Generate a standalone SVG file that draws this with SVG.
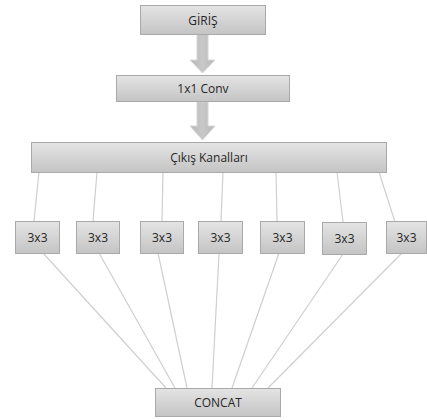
<svg xmlns="http://www.w3.org/2000/svg" width="427" height="420" viewBox="0 0 427 420">
<defs>
<linearGradient id="g" x1="0" y1="0" x2="0" y2="1">
<stop offset="0" stop-color="#e4e4e4"/>
<stop offset="1" stop-color="#c4c4c4"/>
</linearGradient>
<linearGradient id="ga" x1="0" y1="0" x2="1" y2="0">
<stop offset="0" stop-color="#b8b8b8"/>
<stop offset="0.5" stop-color="#c8c8c8"/>
<stop offset="1" stop-color="#b8b8b8"/>
</linearGradient>
</defs>
<style>
.b{fill:url(#g);stroke:#a9a9a9;stroke-width:1}
.t{font-family:"Open Sans","Liberation Sans",sans-serif;font-size:12px;fill:#262626;text-anchor:middle;dominant-baseline:central}
.c line{stroke:#cfcfcf;stroke-width:1.2}
.ar{fill:url(#ga);stroke:#d6d6d6;stroke-width:1}
</style>
<rect width="427" height="420" fill="#fff"/>
<g class="c" id="connectors">
<polygon class="ar" points="197,34 208,34 208,60 215,60 202.5,73 190,60 197,60"/>
<polygon class="ar" points="197,102 208,102 208,126 215,126 202.5,140 190,126 197,126"/>
<line x1="39" y1="172" x2="34" y2="221"/>
<line x1="97" y1="172" x2="93" y2="221"/>
<line x1="163" y1="172" x2="162" y2="221"/>
<line x1="223" y1="172" x2="221" y2="221"/>
<line x1="276" y1="172" x2="277" y2="221"/>
<line x1="337" y1="172" x2="343" y2="222"/>
<line x1="379" y1="172" x2="395" y2="222"/>
<line x1="43" y1="253" x2="166" y2="388"/>
<line x1="99" y1="253" x2="175" y2="388"/>
<line x1="158" y1="253" x2="187" y2="388"/>
<line x1="219" y1="253" x2="212" y2="388"/>
<line x1="279" y1="253" x2="232" y2="388"/>
<line x1="343" y1="254" x2="252" y2="388"/>
<line x1="402" y1="253" x2="268" y2="388"/>
</g>
<g id="giris"><rect class="b" x="140.5" y="5.5" width="125" height="29"/><text class="t" x="203" y="20">GİRİŞ</text></g>
<g id="conv"><rect class="b" x="116.5" y="75.5" width="173" height="26"/><text class="t" x="203" y="88.5">1x1 Conv</text></g>
<g id="cikis"><rect class="b" x="31.5" y="142.5" width="355" height="30"/><text class="t" x="209" y="157.5">Çıkış Kanalları</text></g>
<g id="k1"><rect class="b" x="15.5" y="221.5" width="44" height="32"/><text class="t" x="37.5" y="237.5">3x3</text></g>
<g id="k2"><rect class="b" x="76.5" y="221.5" width="43" height="32"/><text class="t" x="98" y="237.5">3x3</text></g>
<g id="k3"><rect class="b" x="140.5" y="221.5" width="43" height="32"/><text class="t" x="162" y="237.5">3x3</text></g>
<g id="k4"><rect class="b" x="198.5" y="221.5" width="44" height="32"/><text class="t" x="220.5" y="237.5">3x3</text></g>
<g id="k5"><rect class="b" x="260.5" y="221.5" width="44" height="32"/><text class="t" x="282.5" y="237.5">3x3</text></g>
<g id="k6"><rect class="b" x="322.5" y="222.5" width="44" height="32"/><text class="t" x="344.5" y="238.5">3x3</text></g>
<g id="k7"><rect class="b" x="386.5" y="221.5" width="40" height="32"/><text class="t" x="406.5" y="237.5">3x3</text></g>
<g id="concat"><rect class="b" x="155.5" y="388.5" width="125" height="28"/><text class="t" x="218" y="402.5">CONCAT</text></g>
</svg>
